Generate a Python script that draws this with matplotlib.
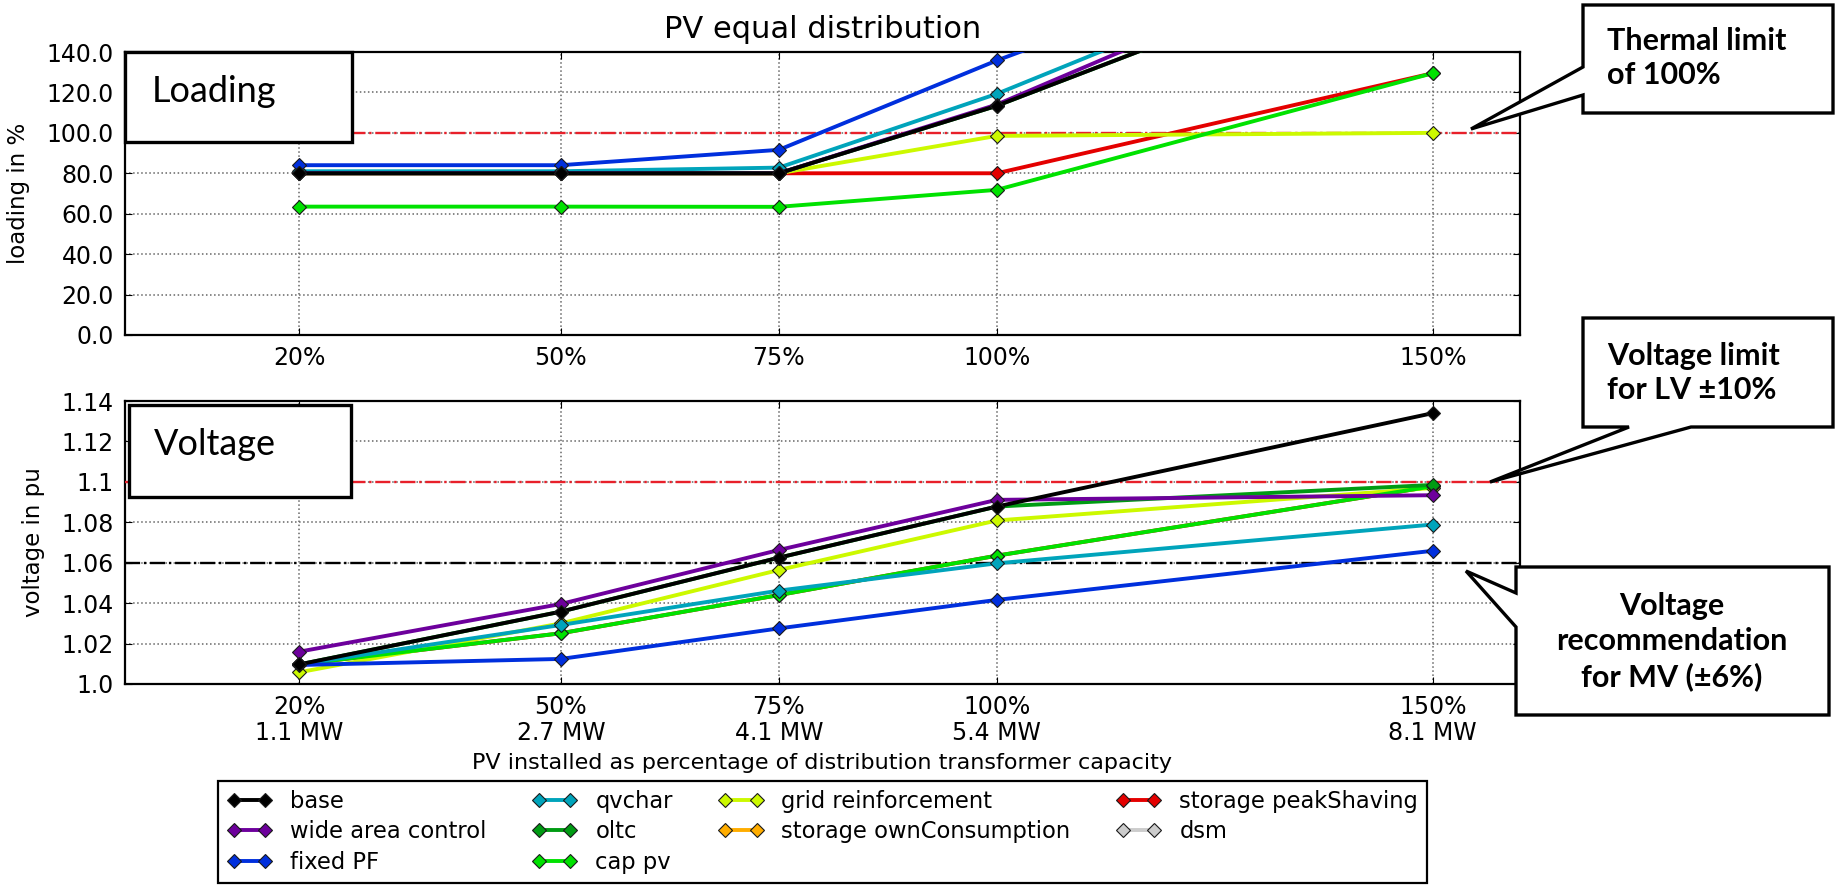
import numpy as np
import matplotlib
matplotlib.use("Agg")
import matplotlib.pyplot as plt
from matplotlib.patches import Polygon, Rectangle
from matplotlib.ticker import FormatStrFormatter

# PV penetration steps (% of transformer capacity) and installed power
pv_share = [20, 50, 75, 100, 150]
pv_mw = ["1.1 MW", "2.7 MW", "4.1 MW", "5.4 MW", "8.1 MW"]

names = ["base", "wide area control", "fixed PF", "qvchar", "oltc", "cap pv",
         "grid reinforcement", "storage ownConsumption", "storage peakShaving", "dsm"]

# transformer loading in %
load_base = [80, 80, 80, 113.4, 196]
load_wide = [80, 80, 80, 114, 206]
load_fixed = [84, 84, 91.6, 135.8, 216]
load_qv = [81, 81, 82.8, 119.3, 207]
load_oltc = [80, 80, 80, 113.4, 196]
load_cap = [63.5, 63.5, 63.4, 71.8, 129.5]
load_grid = [80, 80, 80, 98.5, 100]
load_own = [np.nan] * 5
load_peak = [80, 80, 80, 80, 129.5]
load_dsm = [np.nan] * 5

# max. voltage in pu
volt_base = [1.0097, 1.0358, 1.0625, 1.0878, 1.134]
volt_wide = [1.016, 1.0396, 1.0663, 1.0911, 1.0934]
volt_fixed = [1.0094, 1.0124, 1.0275, 1.0416, 1.0659]
volt_qv = [1.0097, 1.0292, 1.0462, 1.0597, 1.0789]
volt_oltc = [1.0097, 1.0358, 1.0625, 1.0878, 1.0985]
volt_cap = [1.0097, 1.0251, 1.044, 1.0635, 1.0978]
volt_grid = [1.0058, 1.030, 1.0564, 1.0809, 1.097]
volt_own = [np.nan] * 5
volt_peak = [1.0097, 1.0251, 1.044, 1.0635, 1.0978]
volt_dsm = [np.nan] * 5

loading = [load_base, load_wide, load_fixed, load_qv, load_oltc, load_cap,
           load_grid, load_own, load_peak, load_dsm]
voltage = [volt_base, volt_wide, volt_fixed, volt_qv, volt_oltc, volt_cap,
           volt_grid, volt_own, volt_peak, volt_dsm]

thermal_limit = 100
lv_limit = 1.1
mv_recommendation = 1.06

colors = plt.cm.nipy_spectral(np.linspace(0, 1, len(names)))

W, H = 1843, 889
fig = plt.figure(figsize=(W / 100, H / 100), dpi=100)
ax1 = fig.add_axes([0.0678, 0.6232, 0.7569, 0.3183])
ax2 = fig.add_axes([0.0678, 0.2306, 0.7569, 0.3183])


def px(x, y):
    # pixel position (origin top left) -> figure fraction
    return (x / W, 1 - y / H)


def style(ax):
    ax.set_xlim(0, 160)
    ax.set_xticks(pv_share)
    ax.grid(True, linestyle=":", color="0.4", linewidth=1.1)
    ax.tick_params(direction="in", length=5, labelsize=17, pad=8,
                   top=True, right=True)
    for s in ax.spines.values():
        s.set_linewidth(1.6)


lines = []
for i, name in enumerate(names):
    kw = dict(color=colors[i], lw=2.8, marker="D", ms=7.5, mec="0.1", mew=0.8,
              zorder=20 - i, label=name)
    ax1.plot(pv_share, loading[i], **kw)
    ln, = ax2.plot(pv_share, voltage[i], **kw)
    lines.append(ln)

ax1.axhline(thermal_limit, color="#e8202a", ls="-.", lw=1.7, zorder=3)
ax2.axhline(lv_limit, color="#e8202a", ls="-.", lw=1.7, zorder=3)
ax2.axhline(mv_recommendation, color="black", ls="-.", lw=1.7, zorder=3)

style(ax1)
ax1.set_ylim(0, 140)
ax1.set_yticks(np.arange(0, 141, 20))
ax1.yaxis.set_major_formatter(FormatStrFormatter("%.1f"))
ax1.set_xticklabels([f"{p}%" for p in pv_share])
ax1.set_ylabel("loading in %", fontsize=16.5, labelpad=12)
ax1.set_title("PV equal distribution", fontsize=22, pad=10)

style(ax2)
ax2.set_ylim(1.0, 1.14)
vt = [1.0, 1.02, 1.04, 1.06, 1.08, 1.1, 1.12, 1.14]
ax2.set_yticks(vt)
ax2.set_yticklabels(["1.0", "1.02", "1.04", "1.06", "1.08", "1.1", "1.12", "1.14"])
ax2.set_xticklabels([f"{p}%\n{m}" for p, m in zip(pv_share, pv_mw)],
                    linespacing=1.1)
ax2.set_ylabel("voltage in pu", fontsize=16.5, labelpad=12)
ax2.set_xlabel("PV installed as percentage of distribution transformer capacity",
               fontsize=16, labelpad=6)

leg = ax2.legend(handles=lines, loc="upper center", bbox_to_anchor=(0.5, -0.343),
                 ncol=4, fontsize=16.3, numpoints=2, fancybox=False,
                 framealpha=1, edgecolor="black", labelspacing=0.32,
                 borderaxespad=0)
leg.get_frame().set_linewidth(1.6)

# panel labels
box_font = ["Lato", "DejaVu Sans"]
ax1.add_patch(Rectangle((0, 0.682), 0.163, 0.318, transform=ax1.transAxes,
                        fc="white", ec="black", lw=2.4, zorder=40, clip_on=False))
ax1.text(0.019, 0.859, "Loading", transform=ax1.transAxes, fontsize=26,
         family=box_font, va="center", ha="left", zorder=41)
ax2.add_patch(Rectangle((0.003, 0.661), 0.159, 0.325, transform=ax2.transAxes,
                        fc="white", ec="black", lw=2.4, zorder=40, clip_on=False))
ax2.text(0.021, 0.845, "Voltage", transform=ax2.transAxes, fontsize=26,
         family=box_font, va="center", ha="left", zorder=41)


def callout(points):
    fig.patches.append(Polygon([px(x, y) for x, y in points], closed=True,
                               transform=fig.transFigure, fc="white",
                               ec="black", lw=2.4, zorder=50))


# thermal limit note, wedge on the left edge
callout([(1583, 5), (1833, 5), (1833, 113), (1583, 113), (1583, 95),
         (1471, 129), (1583, 67)])
fig.text(*px(1607, 58), "Thermal limit\nof 100%", fontsize=22, weight="bold",
         family=box_font, ha="left", va="center", linespacing=1.3, zorder=51)

# LV voltage limit note, wedge on the bottom edge
callout([(1583, 318), (1833, 318), (1833, 427), (1691, 427), (1490, 482),
         (1629, 427), (1583, 427)])
fig.text(*px(1607, 373), "Voltage limit\nfor LV \u00b110%", fontsize=22,
         weight="bold", family=box_font, ha="left", va="center",
         linespacing=1.3, zorder=51)

# MV recommendation note
callout([(1516, 567), (1829, 567), (1829, 715), (1516, 715), (1516, 627),
         (1466, 571), (1516, 593)])
fig.text(*px(1672, 642), "Voltage\nrecommendation\nfor MV (\u00b16%)",
         fontsize=22, weight="bold", family=box_font, ha="center",
         va="center", linespacing=1.3, zorder=51)

fig.savefig("out.png", dpi=100)
